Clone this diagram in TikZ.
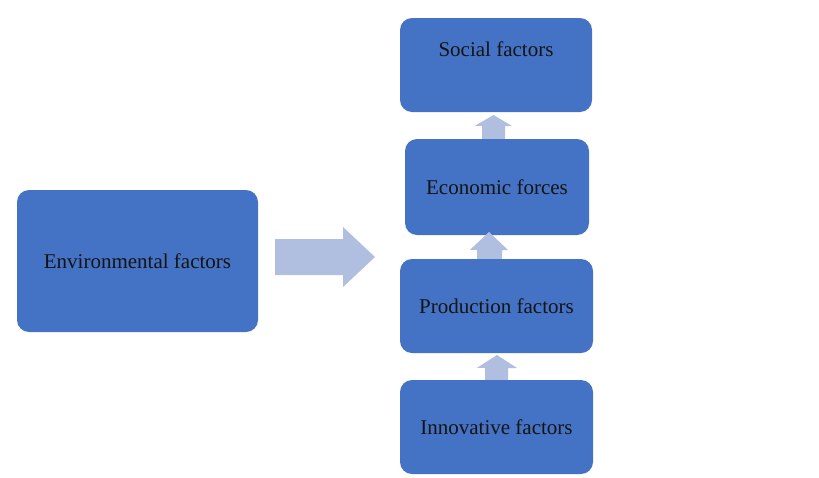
\documentclass[tikz,border=0pt]{standalone}
\usepackage{fontspec}
\setmainfont{Liberation Serif}
\definecolor{boxblue}{RGB}{68,114,196}
\definecolor{arrowblue}{RGB}{176,190,224}
\definecolor{txt}{RGB}{20,20,20}
\begin{document}
\begin{tikzpicture}[x=1pt,y=-1pt,
  box/.style={fill=boxblue,draw=none,rounded corners=12pt,inner sep=0pt},
  lbl/.style={text=txt,font=\fontsize{21}{24}\selectfont,inner sep=0pt},
  blk/.style={fill=arrowblue,draw=none}]
\useasboundingbox (0,0) rectangle (819,477);
% boxes
\node[box,minimum width=241pt,minimum height=142pt] (env) at (137.5,261) {};
\node[box,minimum width=192pt,minimum height=94pt] (soc) at (496,65) {};
\node[box,minimum width=184pt,minimum height=96pt] (eco) at (497,187) {};
\node[box,minimum width=193pt,minimum height=94pt] (pro) at (496.5,306) {};
\node[box,minimum width=193pt,minimum height=94pt] (inn) at (496.5,427) {};
% labels
\node[lbl] (envt) at (env.center) {Environmental factors};
\node[lbl] (soct) at (496,49) {Social factors};
\node[lbl] (ecot) at (eco.center) {Economic forces};
\node[lbl] (prot) at (pro.center) {Production factors};
\node[lbl] (innt) at (inn.center) {Innovative factors};
% big arrow
\coordinate (bigtail) at (275,257);
\coordinate (bigtip) at (375,257);
\fill[blk] (bigtail) ++(0,-18) -- ++(68,0) -- ++(0,-12) -- (bigtip) -- ++(-32,30) -- ++(0,-12) -- ++(-68,0) -- cycle;
% small arrows (block arrows pointing up)
\fill[blk] (eco.north -| 493.5,0) ++(-11.5,0) -- ++(0,-13) -- ++(-7,0) -- (493.5,115) -- ++(18.5,11) -- ++(-7,0) -- ++(0,13) -- cycle;
\fill[blk] (pro.north -| 489.5,0) ++(-12.5,0) -- ++(0,-9) -- ++(-7,0) -- (489,232) -- ++(19,18) -- ++(-6,0) -- ++(0,9) -- cycle;
\fill[blk] (inn.north -| 496.5,0) ++(-11.5,0) -- ++(0,-12) -- ++(-8,0) -- (497,355) -- ++(20,13) -- ++(-9,0) -- ++(0,12) -- cycle;
\end{tikzpicture}
\end{document}
